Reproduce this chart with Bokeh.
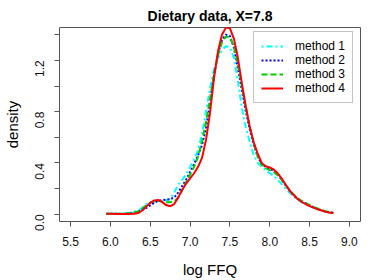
import math
from bokeh.plotting import figure
from bokeh.models import Range1d, FixedTicker, Legend, LegendItem
from bokeh.embed import file_html
from bokeh.resources import INLINE

# ---- data ----
x_grid = [5.95, 6.0, 6.1, 6.2, 6.3, 6.35, 6.4, 6.45, 6.5, 6.55, 6.6, 6.65, 6.7, 6.75,
          6.8, 6.85, 6.9, 6.95, 7.0, 7.05, 7.1, 7.15, 7.2, 7.25, 7.3, 7.35, 7.4, 7.45,
          7.5, 7.55, 7.6, 7.65, 7.7, 7.75, 7.8, 7.85, 7.9, 7.95, 8.0, 8.05, 8.1, 8.15,
          8.2, 8.25, 8.3, 8.35, 8.4, 8.45, 8.5, 8.55, 8.6, 8.65, 8.7, 8.75, 8.8]

method1 = [0.005, 0.005, 0.004, 0.006, 0.02, 0.03, 0.05, 0.08, 0.095, 0.10, 0.103, 0.105,
           0.11, 0.12, 0.17, 0.23, 0.27, 0.31, 0.37, 0.43, 0.50, 0.63, 0.80, 0.98, 1.13,
           1.22, 1.28, 1.31, 1.30, 1.22, 1.04, 0.83, 0.68, 0.56, 0.46, 0.40, 0.37, 0.345,
           0.32, 0.30, 0.27, 0.235, 0.20, 0.17, 0.14, 0.115, 0.095, 0.08, 0.065, 0.05,
           0.04, 0.03, 0.022, 0.015, 0.012]

method2 = [0.005, 0.005, 0.004, 0.005, 0.012, 0.02, 0.035, 0.05, 0.07, 0.09, 0.105, 0.11,
           0.115, 0.118, 0.13, 0.17, 0.22, 0.27, 0.33, 0.39, 0.46, 0.54, 0.67, 0.87, 1.08,
           1.25, 1.36, 1.40, 1.39, 1.30, 1.14, 0.97, 0.80, 0.66, 0.54, 0.45, 0.39, 0.37,
           0.355, 0.34, 0.31, 0.27, 0.225, 0.185, 0.15, 0.12, 0.10, 0.085, 0.07, 0.055,
           0.043, 0.032, 0.022, 0.015, 0.012]

method3 = [0.005, 0.005, 0.004, 0.006, 0.015, 0.025, 0.045, 0.07, 0.09, 0.103, 0.105, 0.10,
           0.095, 0.095, 0.10, 0.13, 0.19, 0.25, 0.31, 0.37, 0.45, 0.57, 0.72, 0.90, 1.09,
           1.24, 1.34, 1.385, 1.38, 1.31, 1.17, 1.00, 0.83, 0.68, 0.55, 0.45, 0.385, 0.36,
           0.345, 0.33, 0.305, 0.27, 0.23, 0.19, 0.155, 0.125, 0.105, 0.09, 0.072, 0.057,
           0.045, 0.034, 0.024, 0.016, 0.013]

method4 = [0.005, 0.005, 0.003, 0.002, 0.004, 0.01, 0.03, 0.06, 0.09, 0.108, 0.112, 0.095,
           0.072, 0.063, 0.08, 0.13, 0.19, 0.24, 0.28, 0.32, 0.37, 0.44, 0.58, 0.79, 1.06,
           1.27, 1.40, 1.455, 1.45, 1.37, 1.22, 1.02, 0.84, 0.68, 0.56, 0.47, 0.40, 0.375,
           0.365, 0.35, 0.32, 0.28, 0.23, 0.185, 0.15, 0.12, 0.098, 0.08, 0.065, 0.052,
           0.04, 0.03, 0.02, 0.013, 0.012]

series_names = ["method 1", "method 2", "method 3", "method 4"]
x_ticks = [5.5, 6.0, 6.5, 7.0, 7.5, 8.0, 8.5, 9.0]
x_tick_labels = ["5.5", "6.0", "6.5", "7.0", "7.5", "8.0", "8.5", "9.0"]
y_ticks = [0, 0.2, 0.4, 0.6, 0.8, 1.0, 1.2, 1.4]
y_tick_labels = ["0.0", "", "0.4", "", "0.8", "", "1.2", ""]

FONT = "Liberation Sans"

p = figure(width=374, height=280, output_backend="svg", toolbar_location=None,
           x_range=Range1d(5.36, 9.14), y_range=Range1d(-0.056, 1.456),
           min_border_left=58, min_border_right=14, min_border_top=27, min_border_bottom=58)

p.grid.visible = False
p.outline_line_color = "#555555"
p.outline_line_width = 1

p.title.text = "Dietary data, X=7.8"
p.title.align = "center"
p.title.text_font = FONT
p.title.text_font_size = "14px"
p.title.text_font_style = "bold"
p.title.text_color = "black"
p.title.standoff = 7
p.title.offset = 0

for ax in (p.xaxis[0], p.yaxis[0]):
    ax.axis_line_color = None
    ax.major_tick_out = 5
    ax.major_tick_in = 0
    ax.minor_tick_out = 0
    ax.minor_tick_in = 0
    ax.major_tick_line_color = "#555555"
    ax.major_label_text_font = FONT
    ax.major_label_text_font_size = "12px"
    ax.major_label_text_color = "#111111"
    ax.axis_label_text_font = FONT
    ax.axis_label_text_font_size = "15px"
    ax.axis_label_text_font_style = "normal"
    ax.axis_label_text_color = "black"

p.xaxis.ticker = FixedTicker(ticks=x_ticks)
p.xaxis.major_label_overrides = dict(zip(x_ticks, x_tick_labels))
p.xaxis.major_label_standoff = 10
p.xaxis.axis_label = "log FFQ"
p.xaxis.axis_label_standoff = 12

p.yaxis.ticker = FixedTicker(ticks=y_ticks)
p.yaxis.major_label_overrides = dict(zip(y_ticks, y_tick_labels))
p.yaxis.major_label_orientation = math.pi / 2
p.yaxis.major_label_standoff = 15
p.yaxis.axis_label = "density"
p.yaxis.axis_label_standoff = 7

r1 = p.line(x_grid, method1, line_color="#00FFFF", line_width=2, line_dash="2 3 6 3")
r2 = p.line(x_grid, method2, line_color="#0000FF", line_width=2, line_dash="2 2")
r3 = p.line(x_grid, method3, line_color="#00CD00", line_width=2, line_dash="6 3")
r4 = p.line(x_grid, method4, line_color="#FF0000", line_width=2)

legend = Legend(items=[LegendItem(label=n, renderers=[r]) for n, r in
                       zip(series_names, [r1, r2, r3, r4])],
                location=(194, 118), padding=7, spacing=0, margin=0,
                glyph_width=22, glyph_height=14, label_height=14, label_standoff=12,
                label_text_font=FONT, label_text_font_size="12px", label_text_color="black",
                border_line_color="#888888", border_line_width=1,
                background_fill_color="white", background_fill_alpha=1.0)
p.add_layout(legend)

open("out.html", "w").write(file_html(p, INLINE))
